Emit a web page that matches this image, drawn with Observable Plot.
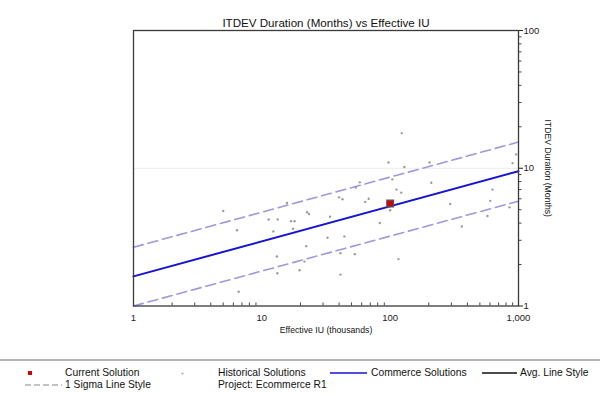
<!DOCTYPE html>
<html>
<head>
<meta charset="utf-8">
<script src="https://cdn.jsdelivr.net/npm/d3@7"></script>
<script src="https://cdn.jsdelivr.net/npm/@observablehq/plot@0.6"></script>
<style>
  html, body { margin: 0; padding: 0; background: #fff; }
  #wrap { position: relative; width: 600px; height: 395px; font-family: "Liberation Sans", Arial, sans-serif; color: #111; overflow: hidden; }
  #chart { position: absolute; left: 0; top: 0; }
  .sep { position: absolute; left: 0; top: 359px; width: 600px; height: 2px; background: #b4b4b4; }
  .lg { position: absolute; font-size: 10.3px; line-height: 13px; white-space: nowrap; color: #111; }
  .sym { position: absolute; line-height: 0; }
  .sym svg { display: block; }
</style>
</head>
<body>
<div id="wrap">
  <div id="chart"></div>
  <div class="sep"></div>
  <div id="legend"></div>
</div>
<script>
// ---- data ----
const titleText = "ITDEV Duration (Months) vs Effective IU";
const xLabel = "Effective IU (thousands)";
const yLabel = "ITDEV Duration (Months)";

const xTicks = [1, 10, 100, 1000];
const xMinor = [2, 3, 4, 5, 6, 7, 8, 9, 20, 30, 40, 50, 60, 70, 80, 90, 200, 300, 400, 500, 600, 700, 800, 900];
const yTicks = [1, 10, 100];
const yMinor = [2, 3, 4, 5, 6, 7, 8, 9, 20, 30, 40, 50, 60, 70, 80, 90];

const histX = [123, 97, 129, 203, 898, 960, 58, 54, 104, 209, 112, 122, 40, 42.5, 64, 68, 100, 34, 83, 32.5, 44, 41, 53, 116, 41, 294, 627, 602, 851, 573, 362, 5.0, 15.7, 11.3, 13.3, 16.9, 18.0, 22.5, 23.3, 6.4, 12.3, 17.5, 22.2, 13.1, 21.5, 19.7, 13.2, 6.6];
const histY = [18, 11, 10.2, 11, 10.9, 12.6, 7.9, 7.25, 8.3, 7.85, 7.0, 6.65, 6.15, 5.95, 5.7, 6.0, 4.95, 4.45, 4.0, 3.13, 3.2, 2.42, 2.38, 2.19, 1.69, 5.5, 7.0, 5.8, 5.2, 4.5, 3.78, 4.9, 5.6, 4.25, 4.25, 4.13, 4.13, 4.8, 4.65, 3.55, 3.48, 3.64, 2.72, 2.29, 2.1, 1.82, 1.73, 1.27];

const currentX = [100];
const currentY = [5.55];

const fitX = [1, 1000];
const avgY = [1.64, 9.52];
const upperY = [2.67, 15.5];
const lowerY = [1.0, 5.77];

const gridY = [10];

const legendRow1 = ["Current Solution", "Historical Solutions", "Commerce Solutions", "Avg. Line Style"];
const legendRow2 = ["1 Sigma Line Style", "Project: Ecommerce R1"];

// ---- tables ----
const hist = histX.map((x, i) => ({x, y: histY[i]}));
const current = currentX.map((x, i) => ({x, y: currentY[i]}));
const fit = fitX.map((x, i) => ({x, avg: avgY[i], upper: upperY[i], lower: lowerY[i]}));

const chart = Plot.plot({
  width: 600,
  height: 350,
  marginTop: 30,
  marginLeft: 133,
  marginRight: 82,
  marginBottom: 44.5,
  style: {fontFamily: "'Liberation Sans', Arial, sans-serif", background: "transparent", color: "#222"},
  x: {type: "log", domain: [1, 1000]},
  y: {type: "log", domain: [1, 100]},
  marks: [
    Plot.ruleY(gridY, {y: d => d, stroke: "#ececec", strokeWidth: 1}),
    Plot.line(fit, {x: "x", y: "upper", stroke: "#a097e3", strokeWidth: 1.6, strokeDasharray: "10,5"}),
    Plot.line(fit, {x: "x", y: "lower", stroke: "#a097e3", strokeWidth: 1.6, strokeDasharray: "10,5"}),
    Plot.dot(hist, {x: "x", y: "y", r: 1.2, fill: "#9c9c9c", stroke: "none"}),
    Plot.line(fit, {x: "x", y: "avg", stroke: "#1414d2", strokeWidth: 2}),
    Plot.dot(current, {x: "x", y: "y", symbol: "square", r: 3.8, fill: "#d10000", stroke: "#555", strokeWidth: 1.2}),
    Plot.frame({stroke: "#3a3a3a", strokeWidth: 1.3}),
    Plot.axisX({ticks: xTicks, tickSize: 0, tickPadding: 8, tickFormat: ",", fontSize: 9.5, label: null}),
    Plot.axisX({ticks: xMinor, tickSize: 3, dy: -3, tickFormat: () => "", label: null, stroke: "#444"}),
    Plot.axisY({anchor: "right", ticks: yTicks, tickSize: 4, tickPadding: 1, tickFormat: d => String(d), fontSize: 9.5, label: null}),
    Plot.axisY({anchor: "right", ticks: yMinor, tickSize: 2.5, tickFormat: () => "", label: null, stroke: "#444"}),
    Plot.text([titleText], {frameAnchor: "top", dy: -12, fontSize: 11.6, fill: "#111"}),
    Plot.text([xLabel], {frameAnchor: "bottom", dy: 27, fontSize: 8.7, fill: "#111"}),
    Plot.text([yLabel], {frameAnchor: "right", dx: 29, rotate: 90, textAnchor: "middle", fontSize: 8.7, fill: "#111"})
  ]
});
document.getElementById("chart").appendChild(chart);

// ---- legend ----
const lg = document.getElementById("legend");
function addText(txt, left, cy) {
  const s = document.createElement("div");
  s.className = "lg";
  s.textContent = txt;
  s.style.left = left + "px";
  s.style.top = (cy - 6.5) + "px";
  lg.appendChild(s);
}
function addSym(html, left, top, w, h) {
  const d = document.createElement("div");
  d.className = "sym";
  d.style.left = left + "px";
  d.style.top = top + "px";
  d.innerHTML = `<svg width="${w}" height="${h}">${html}</svg>`;
  lg.appendChild(d);
}
const r1 = 372.7, r2 = 384.5;
addSym('<rect x="0" y="0" width="4" height="4" fill="#cc0000"/>', 27.5, r1 - 2, 4, 4);
addText(legendRow1[0], 65, r1);
addSym('<circle cx="1.5" cy="1.5" r="1.1" fill="#aaa"/>', 180.5, r1 - 1, 3, 3);
addText(legendRow1[1], 218, r1);
addSym('<line x1="0" y1="1" x2="37" y2="1" stroke="#1414d2" stroke-width="1.5"/>', 330, r1 - 1, 37, 2);
addText(legendRow1[2], 371, r1);
addSym('<line x1="0" y1="1" x2="35" y2="1" stroke="#111" stroke-width="1.5"/>', 482, r1 - 1, 35, 2);
addText(legendRow1[3], 520, r1);
addSym('<line x1="0" y1="1" x2="37" y2="1" stroke="#888" stroke-width="1.2" stroke-dasharray="6,3"/>', 25, r2 - 1, 37, 2);
addText(legendRow2[0], 65, r2);
addText(legendRow2[1], 218, r2);
</script>
</body>
</html>
